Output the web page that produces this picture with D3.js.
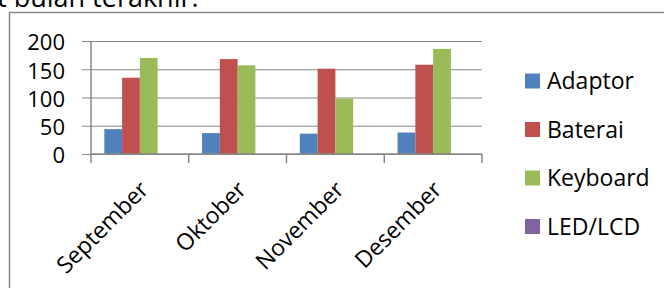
<!DOCTYPE html>
<html>
<head>
<meta charset="utf-8">
<script src="https://cdn.jsdelivr.net/npm/d3@7/dist/d3.min.js"></script>
<style>
  html, body { margin: 0; padding: 0; background: #fff; }
  svg { display: block; }
  text { font-family: "Open Sans", sans-serif; fill: #000; }
</style>
</head>
<body>
<svg id="chart" width="664" height="288"></svg>
<script>
const categories = ["September", "Oktober", "November", "Desember"];
const seriesNames = ["Adaptor", "Baterai", "Keyboard", "LED/LCD"];
const adaptor  = [44, 37, 36, 38];
const baterai  = [135, 168, 151, 158];
const keyboard = [170, 157, 98, 186];
const ledlcd   = [0, 0, 0, 0];
const yTicks = [0, 50, 100, 150, 200];
const colors = ["#4F81BD", "#C0504D", "#9BBB59", "#8064A2"];
const headingText = "t bulan terakhir.";

const seriesValues = [adaptor, baterai, keyboard, ledlcd];
const data = categories.map((c, i) => ({
  cat: c,
  vals: seriesNames.map((s, j) => ({ s, v: seriesValues[j][i] }))
}));

const svg = d3.select("#chart");
const gridColor = "#878787";

// heading text (partially cut at top, as in the reference)
svg.append("text")
  .attr("x", -3).attr("y", 7)
  .style("font-size", "27px")
  .text(headingText);

// chart frame
svg.append("path")
  .attr("d", "M9.5,300 L9.5,12.5 L700,12.5")
  .attr("fill", "none")
  .attr("stroke", gridColor)
  .attr("stroke-width", 1.5);

const plotL = 91, plotR = 482;
const x = d3.scaleBand().domain(categories).range([plotL, plotR]).padding(0);
const xs = d3.scaleBand().domain(seriesNames).range([0, x.bandwidth()]).paddingInner(0).paddingOuter(0.75);
const y = d3.scaleLinear().domain([0, 200]).range([154, 41]);

// gridlines + left ticks + labels
const yAxis = d3.axisLeft(y).tickValues(yTicks).tickSize(plotR - plotL + 9).tickPadding(17);
const gy = svg.append("g").attr("transform", `translate(${plotR},0)`).call(yAxis);
gy.select(".domain").remove();
gy.selectAll(".tick line").attr("stroke", gridColor).attr("stroke-width", 1.2);
gy.selectAll(".tick text").style("font-size", "22px").attr("fill", "#000").attr("dy", "0.4em");

// vertical axis line
svg.append("line")
  .attr("x1", plotL).attr("x2", plotL)
  .attr("y1", y(200)).attr("y2", y(0))
  .attr("stroke", gridColor).attr("stroke-width", 1.5);

// x axis ticks at category boundaries
const bounds = categories.map(c => x(c)).concat([x.range()[1]]);
svg.append("g").selectAll("line").data(bounds).join("line")
  .attr("x1", d => d).attr("x2", d => d)
  .attr("y1", y(0)).attr("y2", y(0) + 9)
  .attr("stroke", gridColor).attr("stroke-width", 1.5);

// bars
const groups = svg.append("g").selectAll("g").data(data).join("g")
  .attr("transform", d => `translate(${x(d.cat)},0)`);
groups.selectAll("rect").data(d => d.vals).join("rect")
  .attr("x", d => xs(d.s))
  .attr("width", xs.bandwidth())
  .attr("y", d => y(d.v))
  .attr("height", d => y(0) - y(d.v))
  .attr("fill", (d, i) => colors[i]);

// x axis baseline
svg.append("line")
  .attr("x1", plotL).attr("x2", plotR)
  .attr("y1", y(0)).attr("y2", y(0))
  .attr("stroke", gridColor).attr("stroke-width", 1.5);

// category labels rotated
svg.append("g").selectAll("text").data(categories).join("text")
  .attr("transform", d => `translate(${x(d) + x.bandwidth() / 2 + 10},${y(0) + 37}) rotate(-45)`)
  .attr("text-anchor", "end")
  .style("font-size", "23px")
  .text(d => d);

// legend
const leg = svg.append("g").selectAll("g").data(seriesNames).join("g")
  .attr("transform", (d, i) => `translate(525,${81 + i * 48.5})`);
leg.append("rect")
  .attr("x", 0).attr("y", -7.5).attr("width", 15).attr("height", 15)
  .attr("fill", (d, i) => colors[i]);
leg.append("text")
  .attr("x", 22).attr("y", 0).attr("dy", "0.36em")
  .style("font-size", "23px")
  .text(d => d);
</script>
</body>
</html>
